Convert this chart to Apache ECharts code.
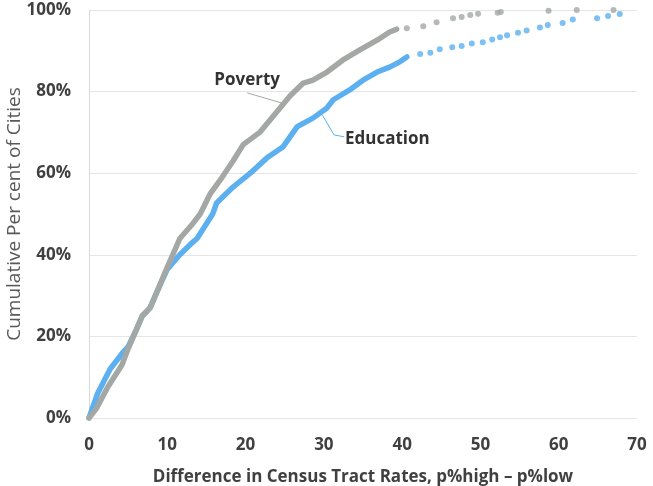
<!DOCTYPE html>
<html><head><meta charset="utf-8">
<script src="https://cdn.jsdelivr.net/npm/echarts@6/dist/echarts.min.js"></script>
<style>html,body{margin:0;padding:0;background:#fff}#c{width:653px;height:486px}</style>
</head><body><div id="c"></div>
<script>
const xTicks = [0,10,20,30,40,50,60,70];
const yTicks = [0,20,40,60,80,100];
const povertyDense = [[0,0],[1,2.5],[2.4,7.6],[3.2,10],[4.2,13],[5,17],[5.9,21],[6.8,25],[7.8,27],[8.7,31],[10,37],[10.7,40],[11.6,44],[13.2,47.5],[14.2,50],[15.5,55],[17,59],[18.4,63],[19.7,67],[21.8,70],[23.1,73],[24.4,76],[25.7,79],[27.3,82],[28.6,82.8],[30.4,84.8],[32.4,87.7],[34.6,90.2],[36.8,92.6],[38.4,94.6],[39.3,95.3]];
const povertyDots = [[40.6,95.5],[42.7,96],[44.4,97],[46.5,98],[47.6,98.3],[48.7,98.8],[49.7,99.1],[52.2,99.3],[52.6,99.5],[58.7,99.8],[62.3,100],[67,100]];
const educationDense = [[0,0],[1.1,6],[2.7,12],[4.3,16],[5,17.5],[5.9,21],[6.8,25],[7.8,27],[8.7,31],[10,36.5],[11.6,40],[13.2,43],[13.8,44],[15.8,50],[16.3,52.7],[18.4,56.6],[20.6,60],[22.7,63.7],[24.8,66.5],[26.6,71.4],[28.6,73.5],[30.4,76],[31.2,78],[33.3,80.4],[35,82.8],[36.8,84.8],[38.4,86],[39.7,87.3],[40.6,88.5]];
const educationDots = [[42.3,89.2],[43.6,89.5],[44.8,90.4],[46.4,90.9],[47.6,91.2],[48.9,91.8],[50.3,92.1],[51.5,92.8],[52.5,93.3],[53.4,93.8],[54.8,94.4],[55.9,95],[57.6,95.7],[58.6,96.3],[60.5,96.8],[61.8,97.7],[64.9,98],[66.3,98.5],[67.8,99]];
const seriesNames = ['Poverty','Education'];
const xTitle = 'Difference in Census Tract Rates, p%high \u2013 p%low';
const yTitle = 'Cumulative Per cent of Cities';

const GRAY = '#a3a8a5', BLUE = '#5cb0f0';
const FONT = '"Open Sans", sans-serif';
const chart = echarts.init(document.getElementById('c'));
chart.setOption({
  animation: false,
  grid: {left: 89, right: 16, top: 10, bottom: 68, containLabel: false, outerBoundsMode: 'none'},
  xAxis: {type: 'value', min: 0, max: 70, interval: 10,
    axisLine: {show: false}, axisTick: {show: false}, splitLine: {show: false},
    axisLabel: {color: '#404040', fontFamily: FONT, fontWeight: 'bold', fontSize: 17, margin: 19},
    name: xTitle, nameLocation: 'middle', nameGap: 51, nameMoveOverlap: false,
    nameTextStyle: {color: '#404040', fontFamily: FONT, fontWeight: 'bold', fontSize: 17}},
  yAxis: {type: 'value', min: 0, max: 100, interval: 20,
    axisLine: {show: true, lineStyle: {color: '#d9d9d9'}}, axisTick: {show: false},
    splitLine: {show: true, lineStyle: {color: '#e3e6e6'}},
    axisLabel: {color: '#404040', fontFamily: FONT, fontWeight: 'bold', fontSize: 17, margin: 18, formatter: '{value}%'},
    name: yTitle, nameLocation: 'middle', nameGap: 65, nameRotate: 90, nameMoveOverlap: false,
    nameTextStyle: {color: '#595959', fontFamily: FONT, fontWeight: 'normal', fontSize: 19}},
  series: [
    {name: seriesNames[1], type: 'line', data: educationDense, showSymbol: false, lineStyle: {color: BLUE, width: 5.5, cap: 'round', join: 'round'}, z: 2},
    {name: seriesNames[1], type: 'scatter', data: educationDots, symbolSize: 6, itemStyle: {color: BLUE}, z: 2},
    {name: seriesNames[0], type: 'line', data: povertyDense, showSymbol: false, lineStyle: {color: GRAY, width: 5.5, cap: 'round', join: 'round'}, z: 3},
    {name: seriesNames[0], type: 'scatter', data: povertyDots, symbolSize: 6, itemStyle: {color: GRAY}, z: 3}
  ]
});
const p = (x, y) => chart.convertToPixel({gridIndex: 0}, [x, y]);
const pt = p(20.2, 82.8), pl1 = p(20.2, 79.7), pl2 = p(24.6, 77.2);
const et = p(32.7, 68.4), el1 = p(32.6, 68.9), el2 = p(31.3, 69.4), el3 = p(29.8, 74.3);
chart.setOption({graphic: [
  {type: 'text', x: pt[0], y: pt[1], z: 10, style: {text: seriesNames[0], fill: '#333', font: 'bold 17px ' + FONT, textAlign: 'center', textVerticalAlign: 'middle'}},
  {type: 'polyline', z: 10, shape: {points: [pl1, pl2]}, style: {stroke: GRAY, lineWidth: 1}},
  {type: 'text', x: et[0], y: et[1], z: 10, style: {text: seriesNames[1], fill: '#333', font: 'bold 17px ' + FONT, textAlign: 'left', textVerticalAlign: 'middle'}},
  {type: 'polyline', z: 10, shape: {points: [el1, el2, el3]}, style: {stroke: BLUE, lineWidth: 1}}
]});
</script></body></html>
